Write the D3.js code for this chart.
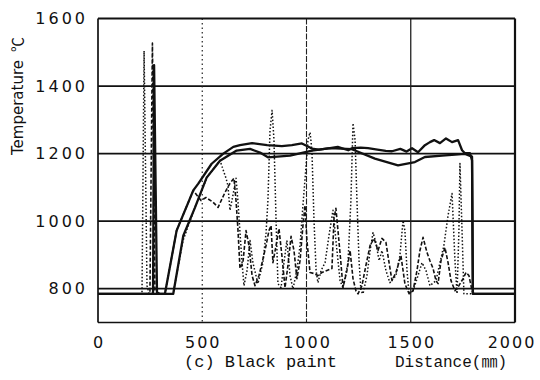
<!DOCTYPE html>
<html>
<head>
<meta charset="utf-8">
<script src="https://cdn.jsdelivr.net/npm/d3@7"></script>
<style>
  html, body { margin: 0; padding: 0; background: #fff; }
  svg { display: block; }
</style>
</head>
<body>
<svg id="chart" width="540" height="380"></svg>
<script>
// ---------- data ----------
const xTicks = [0, 500, 1000, 1500, 2000];
const yTicks = [800, 1000, 1200, 1400, 1600];
const xTickLabels = ["0", "500", "1000", "1500", "2000"];
const yTickLabels = ["800", "1000", "1200", "1400", "1600"];

// solid curve 1 (upper)
const solid1X = [0,264,269,283,321,377,457,481,545,601,649,681,739,811,882,930,978,1026,1060,1113,1150,1200,1218,1260,1295,1340,1380,1410,1450,1480,1506,1535,1568,1592,1612,1640,1669,1698,1727,1746,1760,1784,1794,1798,2000];
const solid1Y = [785,785,1462,785,785,972,1091,1111,1170,1200,1220,1225,1231,1225,1222,1225,1230,1215,1212,1216,1220,1210,1216,1218,1216,1212,1208,1207,1214,1206,1216,1204,1225,1234,1240,1231,1245,1234,1240,1210,1201,1201,1180,785,785];

// solid curve 2 (lower)
const solid2X = [0,361,409,465,521,585,665,729,777,815,921,1026,1113,1218,1328,1439,1520,1568,1650,1760,1794,1798,2000];
const solid2Y = [785,785,957,1040,1129,1179,1209,1214,1203,1189,1194,1209,1216,1213,1185,1165,1175,1190,1194,1199,1191,785,785];

// dashed trace
const dashedX = [0,249,261,273,297,321,377,457,494,518,552,576,609,633,652,662,671,681,695,710,724,739,753,772,787,806,820,830,839,854,868,882,897,911,926,940,954,969,983,993,1002,1017,1036,1055,1074,1098,1122,1132,1141,1151,1165,1175,1194,1209,1223,1237,1247,1266,1285,1305,1324,1343,1362,1381,1396,1410,1429,1439,1453,1472,1492,1511,1530,1544,1559,1578,1592,1607,1621,1631,1645,1664,1679,1693,1712,1731,1751,1765,1779,1794,1803,2000];
const dashedY = [785,785,1527,794,785,785,972,1091,1061,1070,1056,1041,1085,1112,1127,1061,978,860,877,972,928,839,809,839,877,928,972,987,877,928,978,898,803,869,955,913,830,883,987,1047,943,848,845,839,848,854,860,1008,1038,972,877,803,854,913,830,794,785,809,869,928,949,913,949,937,877,824,848,869,898,815,785,794,854,913,952,907,883,860,824,815,883,922,877,824,794,809,830,848,839,794,785,785];

// dotted trace
const dottedX = [0,211,221,235,245,360,408,465,523,585,614,623,633,647,662,671,681,691,700,715,729,743,767,791,806,815,825,835,844,854,863,878,892,906,921,935,954,969,983,998,1007,1017,1026,1036,1046,1055,1070,1089,1108,1127,1146,1161,1175,1199,1213,1223,1233,1242,1252,1261,1271,1290,1305,1319,1333,1348,1362,1381,1400,1429,1448,1463,1472,1482,1492,1511,1535,1554,1573,1592,1621,1640,1659,1679,1698,1712,1722,1731,1736,1746,1755,2000];
const dottedY = [785,785,1504,809,785,785,943,1041,1130,1180,1127,1106,1032,1076,1127,1061,966,877,809,854,943,877,815,877,966,1061,1269,1328,1240,1002,815,803,877,943,839,800,854,928,1047,1165,1240,1263,1210,1002,854,818,854,877,958,1032,913,824,803,877,1061,1290,1240,1061,883,794,785,839,913,966,937,883,913,854,818,839,898,1002,972,854,785,794,839,877,854,809,824,877,928,1017,1082,883,785,972,1171,972,785,785];

// ---------- drawing ----------
const svg = d3.select("#chart");
const L = 98, R = 515, T = 18.5, B = 322.5;
const x = d3.scaleLinear().domain([0, 2000]).range([L, R]);
const y = d3.scaleLinear().domain([700, 1600]).range([B, T]);

const g = svg.append("g");

// horizontal grid lines
g.selectAll("line.hg").data([800, 1000, 1200, 1400]).join("line")
  .attr("x1", L).attr("x2", R)
  .attr("y1", d => y(d)).attr("y2", d => y(d))
  .attr("stroke", "#111").attr("stroke-width", 1.7);

// vertical grid lines
const vStyles = [
  {v: 500, dash: "1.5,3", w: 1.2},
  {v: 1000, dash: "6,1.5", w: 1.1},
  {v: 1500, dash: null, w: 1.3}
];
vStyles.forEach(s => {
  g.append("line")
    .attr("x1", x(s.v)).attr("x2", x(s.v))
    .attr("y1", T).attr("y2", B)
    .attr("stroke", "#222").attr("stroke-width", s.w)
    .attr("stroke-dasharray", s.dash);
});

// frame
g.append("line").attr("x1", L).attr("x2", R).attr("y1", T).attr("y2", T).attr("stroke", "#111").attr("stroke-width", 2.2);
g.append("line").attr("x1", L).attr("x2", R).attr("y1", B).attr("y2", B).attr("stroke", "#111").attr("stroke-width", 1.7);
g.append("line").attr("x1", L).attr("x2", L).attr("y1", T).attr("y2", B).attr("stroke", "#111").attr("stroke-width", 1.7);
g.append("line").attr("x1", R).attr("x2", R).attr("y1", T).attr("y2", B).attr("stroke", "#111").attr("stroke-width", 2.2);

// series
const line = d3.line().x(d => x(d[0])).y(d => y(d[1]));
function draw(xs, ys, w, dash) {
  const pts = xs.map((v, i) => [v, ys[i]]);
  g.append("path").datum(pts)
    .attr("d", line)
    .attr("fill", "none")
    .attr("stroke", "#111")
    .attr("stroke-width", w)
    .attr("stroke-linejoin", "round")
    .attr("stroke-dasharray", dash);
}
draw(dottedX, dottedY, 1.5, "1.5,2");
draw(dashedX, dashedY, 1.6, "4,2");
draw(solid2X, solid2Y, 2.3, null);
draw(solid1X, solid1Y, 2.3, null);

// y tick labels
const tickFont = "'DejaVu Sans', sans-serif";
svg.selectAll("text.yt").data(yTicks).join("text")
  .attr("x", 88).attr("y", d => y(d))
  .attr("text-anchor", "end")
  .attr("dominant-baseline", "central")
  .attr("font-family", tickFont).attr("font-size", 16)
  .attr("letter-spacing", 3)
  .attr("fill", "#111")
  .text((d, i) => yTickLabels[i]);

// x tick labels
svg.selectAll("text.xt").data(xTicks).join("text")
  .attr("x", d => Math.min(x(d) + 1, 512)).attr("y", 348)
  .attr("text-anchor", "middle")
  .attr("font-family", tickFont).attr("font-size", 16)
  .attr("letter-spacing", 2)
  .attr("fill", "#111")
  .text((d, i) => xTickLabels[i]);

// axis titles
const yl = svg.append("text")
  .attr("transform", "translate(23,155) rotate(-90)")
  .attr("font-family", "'DejaVu Sans', sans-serif").attr("font-size", 15)
  .attr("fill", "#111");
yl.append("tspan").text("Temperature");
yl.append("tspan").attr("dx", 8).attr("font-family", "'Noto Sans CJK JP', sans-serif").text("℃");

svg.append("text")
  .attr("x", 184).attr("y", 367)
  .attr("font-family", "'Liberation Mono', monospace").attr("font-size", 17)
  .attr("fill", "#111")
  .text("(c) Black paint");

svg.append("text")
  .attr("x", 395).attr("y", 367)
  .attr("font-family", "'Liberation Mono', 'Noto Sans CJK JP', monospace").attr("font-size", 16)
  .attr("fill", "#111")
  .text("Distance(㎜)");
</script>
</body>
</html>
